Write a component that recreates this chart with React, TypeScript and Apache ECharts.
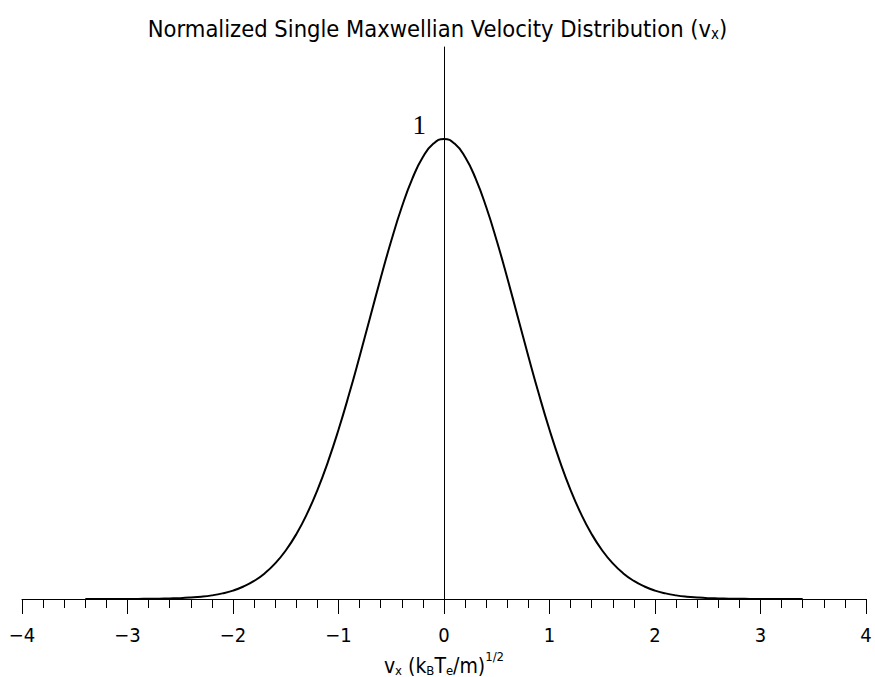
import React, { useEffect, useRef } from "react";
import * as echarts from "echarts";

const velocities: number[] = [
  -3.4, -3.3, -3.2, -3.1, -3.0, -2.9, -2.8, -2.7, -2.6, -2.5, -2.4, -2.3, -2.2, -2.1, -2.0,
  -1.9, -1.8, -1.7, -1.6, -1.5, -1.4, -1.3, -1.2, -1.1, -1.0, -0.9, -0.8, -0.7, -0.6, -0.5,
  -0.4, -0.3, -0.2, -0.1, 0.0, 0.1, 0.2, 0.3, 0.4, 0.5, 0.6, 0.7, 0.8, 0.9, 1.0, 1.1, 1.2,
  1.3, 1.4, 1.5, 1.6, 1.7, 1.8, 1.9, 2.0, 2.1, 2.2, 2.3, 2.4, 2.5, 2.6, 2.7, 2.8, 2.9, 3.0,
  3.1, 3.2, 3.3, 3.4,
];

const density: number[] = [
  0.0, 0.0, 0.0, 0.0, 0.0001, 0.0002, 0.0004, 0.0007, 0.0012, 0.0019, 0.0032, 0.005, 0.0079, 0.0122, 0.0183,
  0.0271, 0.0392, 0.0556, 0.0773, 0.1054, 0.1409, 0.1845, 0.2369, 0.2982, 0.3679, 0.4449, 0.5273, 0.6126, 0.6977, 0.7788,
  0.8521, 0.9139, 0.9608, 0.99, 1.0, 0.99, 0.9608, 0.9139, 0.8521, 0.7788, 0.6977, 0.6126, 0.5273, 0.4449, 0.3679, 0.2982, 0.2369,
  0.1845, 0.1409, 0.1054, 0.0773, 0.0556, 0.0392, 0.0271, 0.0183, 0.0122, 0.0079, 0.005, 0.0032, 0.0019, 0.0012, 0.0007, 0.0004, 0.0002, 0.0001,
  0.0, 0.0, 0.0, 0.0,
];

const xTickLabels: Record<string, string> = {
  "-4": "\u22124", "-3": "\u22123", "-2": "\u22122", "-1": "\u22121",
  "0": "0", "1": "1", "2": "2", "3": "3", "4": "4",
};

const peakLabel = "1";
const peakPoint: [number, number] = [0, 1];

const SANS = "'DejaVu Sans Condensed', 'DejaVu Sans', sans-serif";

export default function App() {
  const ref = useRef<HTMLDivElement>(null);
  useEffect(() => {
    if (!ref.current) return;
    const chart = echarts.init(ref.current, undefined, { renderer: "svg" });
    chart.setOption({
      animation: false,
      backgroundColor: "#ffffff",
      title: {
        text: "{n|Normalized Single Maxwellian Velocity Distribution (v}{sub|x}{n|)}",
        left: "center",
        top: 6,
        textStyle: {
          fontFamily: SANS,
          fontSize: 23.5,
          fontWeight: "normal",
          color: "#000",
          rich: {
            n: { fontFamily: SANS, fontSize: 23.5, color: "#000", lineHeight: 30, verticalAlign: "bottom" },
            sub: { fontFamily: SANS, fontSize: 15, color: "#000", verticalAlign: "bottom", lineHeight: 24 },
          },
        },
      },
      grid: { left: 22, right: 9, top: 47, bottom: 78, containLabel: false, outerBoundsMode: "none" },
      xAxis: {
        type: "value",
        min: -4,
        max: 4,
        interval: 1,
        name: "{n|v}{sub|x}{n| (k}{sub|B}{n|T}{sub|e}{n|/m)}{sup|1/2}",
        nameLocation: "middle",
        nameGap: 48,
        nameTextStyle: {
          fontFamily: SANS,
          fontSize: 21,
          color: "#000",
          rich: {
            n: { fontFamily: SANS, fontSize: 21, color: "#000", lineHeight: 26, verticalAlign: "bottom" },
            sub: { fontFamily: SANS, fontSize: 13, color: "#000", verticalAlign: "bottom", lineHeight: 21 },
            sup: { fontFamily: SANS, fontSize: 13, color: "#000", verticalAlign: "top", lineHeight: 27 },
          },
        },
        axisLine: { show: true, onZero: true, lineStyle: { color: "#000", width: 1 } },
        axisTick: { show: true, inside: false, length: 15, lineStyle: { color: "#000", width: 1 } },
        minorTick: { show: true, splitNumber: 5, length: 9, lineStyle: { color: "#000", width: 1 } },
        splitLine: { show: false },
        axisLabel: {
          margin: 26,
          fontFamily: SANS,
          fontSize: 20,
          color: "#000",
          formatter: (v: number) => xTickLabels[String(Math.round(v))] ?? String(v),
        },
      },
      yAxis: {
        type: "value",
        min: 0,
        max: 1.2,
        interval: 0.5,
        axisLine: { show: true, onZero: true, lineStyle: { color: "#000", width: 1 } },
        axisTick: { show: false },
        splitLine: { show: false },
        axisLabel: { show: false },
      },
      series: [
        {
          type: "line",
          data: velocities.map((v, i) => [v, density[i]]),
          smooth: true,
          showSymbol: false,
          symbol: "none",
          lineStyle: { color: "#000", width: 2 },
          z: 3,
          markPoint: {
            symbol: "circle",
            symbolSize: 0,
            silent: true,
            data: [
              {
                coord: peakPoint,
                value: peakLabel,
                label: {
                  show: true,
                  position: "left",
                  distance: 18,
                  offset: [0, -14],
                  formatter: peakLabel,
                  fontFamily: "'Liberation Serif', 'Times New Roman', serif",
                  fontSize: 27,
                  color: "#000",
                },
              },
            ],
          },
        },
      ],
    });
    return () => chart.dispose();
  }, []);
  return (
    <div
      ref={ref}
      style={{ position: "absolute", left: 0, top: 0, width: 875, height: 677 }}
    />
  );
}
